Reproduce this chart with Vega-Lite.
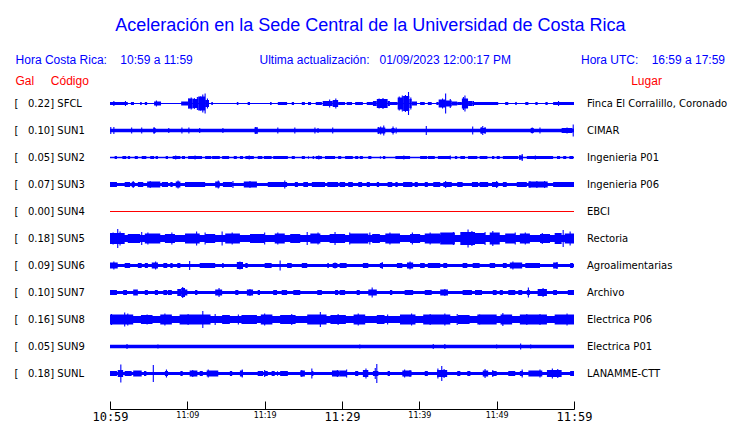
{
"$schema":"https://vega.github.io/schema/vega-lite/v6.json",
"width":464,"height":297,
"autosize":"none",
"padding":{"left":110,"top":90,"right":166,"bottom":36},
"background":"white",
"config":{"view":{"stroke":null}},
"title":{"text":"Aceleración en la Sede Central de la Universidad de Costa Rica",
"subtitle":"Hora Costa Rica:\u00a0\u00a0\u00a0\u00a010:59 a 11:59\u00a0\u00a0\u00a0\u00a0\u00a0\u00a0\u00a0\u00a0\u00a0\u00a0\u00a0\u00a0\u00a0\u00a0\u00a0\u00a0\u00a0\u00a0\u00a0\u00a0Ultima actualización:\u00a0\u00a0\u00a001/09/2023 12:00:17 PM\u00a0\u00a0\u00a0\u00a0\u00a0\u00a0\u00a0\u00a0\u00a0\u00a0\u00a0\u00a0\u00a0\u00a0\u00a0\u00a0\u00a0\u00a0\u00a0\u00a0\u00a0Hora UTC:\u00a0\u00a0\u00a0\u00a016:59 a 17:59\u00a0\u00a0",
"anchor":"middle","frame":"bounds","font":"Liberation Sans","fontSize":18,"fontWeight":"normal","color":"#0000ff",
"subtitleFont":"Liberation Sans","subtitleFontSize":12,"subtitleColor":"#0000ff","subtitlePadding":20,"offset":8.5},
"datasets":{
"st":[
{"id":"SFCL","key":"SFCL|0.22|Finca El Corralillo, Coronado","b":1},
{"id":"SUN1","key":"SUN1|0.10|CIMAR","b":3.5},
{"id":"SUN2","key":"SUN2|0.05|Ingenieria P01","b":1.5},
{"id":"SUN3","key":"SUN3|0.07|Ingenieria P06","b":3},
{"id":"SUN4","key":"SUN4|0.00|EBCI","b":1},
{"id":"SUN5","key":"SUN5|0.18|Rectoria","b":7},
{"id":"SUN6","key":"SUN6|0.09|Agroalimentarias","b":3},
{"id":"SUN7","key":"SUN7|0.10|Archivo","b":3},
{"id":"SUN8","key":"SUN8|0.16|Electrica P06","b":7},
{"id":"SUN9","key":"SUN9|0.05|Electrica P01","b":3.5},
{"id":"SUNL","key":"SUNL|0.18|LANAMME-CTT","b":3}
],
"seg":[
{"id":"SFCL","t0":0,"t1":2.3,"w":3},{"id":"SFCL","t0":2.7,"t1":3.1,"w":3},{"id":"SFCL","t0":3.9,"t1":4.1,"w":3},{"id":"SFCL","t0":4.5,"t1":4.8,"w":3},{"id":"SFCL","t0":5.7,"t1":6.6,"w":4},{"id":"SFCL","t0":9.2,"t1":10.1,"w":4},{"id":"SFCL","t0":10.1,"t1":10.7,"w":10},{"id":"SFCL","t0":10.7,"t1":11.4,"w":9},{"id":"SFCL","t0":11.4,"t1":12.3,"w":14},{"id":"SFCL","t0":12.3,"t1":12.8,"w":7},{"id":"SFCL","t0":13.1,"t1":13.3,"w":3},{"id":"SFCL","t0":16.4,"t1":16.6,"w":3},{"id":"SFCL","t0":17.8,"t1":18.1,"w":3},{"id":"SFCL","t0":20.7,"t1":20.9,"w":3},{"id":"SFCL","t0":21.7,"t1":22.9,"w":3},{"id":"SFCL","t0":23.5,"t1":23.8,"w":3},{"id":"SFCL","t0":24.8,"t1":25.2,"w":3},{"id":"SFCL","t0":25.6,"t1":26,"w":3},{"id":"SFCL","t0":26.6,"t1":27.4,"w":3},{"id":"SFCL","t0":27.5,"t1":28.8,"w":5},{"id":"SFCL","t0":28.8,"t1":29.5,"w":7},{"id":"SFCL","t0":29.5,"t1":30.4,"w":3},{"id":"SFCL","t0":30.6,"t1":31.3,"w":3},{"id":"SFCL","t0":31.7,"t1":32.7,"w":3},{"id":"SFCL","t0":33.2,"t1":34,"w":3},{"id":"SFCL","t0":34,"t1":34.5,"w":5},{"id":"SFCL","t0":34.5,"t1":35.9,"w":9},{"id":"SFCL","t0":35.9,"t1":36.2,"w":5},{"id":"SFCL","t0":36.2,"t1":37.2,"w":3},{"id":"SFCL","t0":37.2,"t1":37.9,"w":12},{"id":"SFCL","t0":37.9,"t1":38.7,"w":15},{"id":"SFCL","t0":38.7,"t1":39,"w":9},{"id":"SFCL","t0":39,"t1":39.7,"w":4},{"id":"SFCL","t0":40.1,"t1":40.7,"w":3},{"id":"SFCL","t0":41.1,"t1":41.6,"w":3},{"id":"SFCL","t0":42.2,"t1":42.5,"w":3},{"id":"SFCL","t0":42.5,"t1":43.4,"w":8},{"id":"SFCL","t0":43.4,"t1":44.2,"w":6},{"id":"SFCL","t0":44.2,"t1":44.9,"w":4},{"id":"SFCL","t0":44.9,"t1":45.5,"w":3},{"id":"SFCL","t0":45.5,"t1":46.3,"w":10},{"id":"SFCL","t0":46.3,"t1":46.9,"w":5},{"id":"SFCL","t0":46.9,"t1":50.2,"w":3},{"id":"SFCL","t0":51.1,"t1":51.5,"w":3},{"id":"SFCL","t0":52.4,"t1":52.6,"w":3},{"id":"SFCL","t0":53.7,"t1":54.1,"w":3},{"id":"SFCL","t0":55,"t1":55.3,"w":3},{"id":"SFCL","t0":56.3,"t1":56.6,"w":3},{"id":"SFCL","t0":57.3,"t1":60,"w":3},
{"id":"SUN1","t0":5.6,"t1":5.9,"w":5},{"id":"SUN1","t0":18.7,"t1":19.1,"w":6},{"id":"SUN1","t0":34.6,"t1":35.6,"w":6},{"id":"SUN1","t0":36.4,"t1":36.8,"w":5},{"id":"SUN1","t0":47.9,"t1":48.6,"w":5},{"id":"SUN1","t0":54.4,"t1":54.8,"w":5},{"id":"SUN1","t0":58.4,"t1":59.8,"w":5},
{"id":"SUN2","t0":0.6,"t1":0.9,"w":3},{"id":"SUN2","t0":1.6,"t1":2.1,"w":3},{"id":"SUN2","t0":2.3,"t1":2.6,"w":3},{"id":"SUN2","t0":3.2,"t1":3.6,"w":3},{"id":"SUN2","t0":4.1,"t1":4.7,"w":3},{"id":"SUN2","t0":5.2,"t1":5.7,"w":3},{"id":"SUN2","t0":5.9,"t1":6.2,"w":3},{"id":"SUN2","t0":7.2,"t1":7.5,"w":3},{"id":"SUN2","t0":8.1,"t1":9.1,"w":3},{"id":"SUN2","t0":9.3,"t1":9.7,"w":3},{"id":"SUN2","t0":10.1,"t1":11.9,"w":3},{"id":"SUN2","t0":12.3,"t1":13.1,"w":3},{"id":"SUN2","t0":13.2,"t1":14.2,"w":3},{"id":"SUN2","t0":14.5,"t1":15.4,"w":3},{"id":"SUN2","t0":16,"t1":16.4,"w":3},{"id":"SUN2","t0":16.8,"t1":17.2,"w":3},{"id":"SUN2","t0":17.5,"t1":18.6,"w":3},{"id":"SUN2","t0":19.1,"t1":19.7,"w":3},{"id":"SUN2","t0":19.9,"t1":20.9,"w":3},{"id":"SUN2","t0":21.1,"t1":23,"w":3},{"id":"SUN2","t0":23.5,"t1":23.9,"w":3},{"id":"SUN2","t0":24.8,"t1":25.2,"w":3},{"id":"SUN2","t0":25.6,"t1":25.7,"w":3},{"id":"SUN2","t0":26.2,"t1":26.4,"w":3},{"id":"SUN2","t0":26.6,"t1":27.4,"w":3},{"id":"SUN2","t0":27.8,"t1":29.1,"w":3},{"id":"SUN2","t0":29.5,"t1":29.9,"w":3},{"id":"SUN2","t0":30.4,"t1":31.4,"w":3},{"id":"SUN2","t0":31.7,"t1":32.1,"w":3},{"id":"SUN2","t0":32.3,"t1":32.7,"w":3},{"id":"SUN2","t0":33.4,"t1":33.8,"w":3},{"id":"SUN2","t0":34.9,"t1":35,"w":3},{"id":"SUN2","t0":35.3,"t1":35.6,"w":3},{"id":"SUN2","t0":36.9,"t1":38.8,"w":3},{"id":"SUN2","t0":40.1,"t1":41,"w":3},{"id":"SUN2","t0":41.1,"t1":42,"w":3},{"id":"SUN2","t0":42.4,"t1":44,"w":3},{"id":"SUN2","t0":44.6,"t1":44.9,"w":3},{"id":"SUN2","t0":45.3,"t1":45.9,"w":3},{"id":"SUN2","t0":46.3,"t1":47.5,"w":3},{"id":"SUN2","t0":47.8,"t1":48.8,"w":3},{"id":"SUN2","t0":49.4,"t1":49.7,"w":3},{"id":"SUN2","t0":50,"t1":50.4,"w":3},{"id":"SUN2","t0":50.8,"t1":52.8,"w":3},{"id":"SUN2","t0":52.9,"t1":53.4,"w":4},{"id":"SUN2","t0":53.9,"t1":57.3,"w":3},{"id":"SUN2","t0":57.8,"t1":58.2,"w":3},{"id":"SUN2","t0":58.6,"t1":59,"w":3},{"id":"SUN2","t0":59.4,"t1":59.9,"w":3},
{"id":"SUN3","t0":0,"t1":0.9,"w":5},{"id":"SUN3","t0":1.9,"t1":2.6,"w":5},{"id":"SUN3","t0":2.8,"t1":3.2,"w":5},{"id":"SUN3","t0":3.6,"t1":4.3,"w":5},{"id":"SUN3","t0":4.8,"t1":6.5,"w":6},{"id":"SUN3","t0":6.7,"t1":7.5,"w":5},{"id":"SUN3","t0":7.8,"t1":8.1,"w":5},{"id":"SUN3","t0":8.5,"t1":9.1,"w":6},{"id":"SUN3","t0":9.7,"t1":12.3,"w":5},{"id":"SUN3","t0":13.6,"t1":14.2,"w":6},{"id":"SUN3","t0":14.6,"t1":15.8,"w":5},{"id":"SUN3","t0":17.3,"t1":19,"w":6},{"id":"SUN3","t0":20.4,"t1":22.9,"w":5},{"id":"SUN3","t0":23.9,"t1":24.3,"w":5},{"id":"SUN3","t0":25,"t1":25.6,"w":5},{"id":"SUN3","t0":26.1,"t1":27.8,"w":5},{"id":"SUN3","t0":28.1,"t1":29.5,"w":5},{"id":"SUN3","t0":29.7,"t1":30.4,"w":5},{"id":"SUN3","t0":30.8,"t1":31.4,"w":5},{"id":"SUN3","t0":32.1,"t1":32.6,"w":5},{"id":"SUN3","t0":33.2,"t1":33.6,"w":5},{"id":"SUN3","t0":34.5,"t1":34.8,"w":5},{"id":"SUN3","t0":35.9,"t1":36.5,"w":5},{"id":"SUN3","t0":36.9,"t1":37.2,"w":5},{"id":"SUN3","t0":37.9,"t1":39.1,"w":5},{"id":"SUN3","t0":39.4,"t1":39.8,"w":5},{"id":"SUN3","t0":40.7,"t1":41.1,"w":5},{"id":"SUN3","t0":41.8,"t1":42.7,"w":5},{"id":"SUN3","t0":43.1,"t1":44.2,"w":5},{"id":"SUN3","t0":44.9,"t1":45.6,"w":5},{"id":"SUN3","t0":46.8,"t1":47.6,"w":5},{"id":"SUN3","t0":47.8,"t1":48.9,"w":5},{"id":"SUN3","t0":49.4,"t1":50.2,"w":5},{"id":"SUN3","t0":50.8,"t1":51.3,"w":5},{"id":"SUN3","t0":52.6,"t1":53.9,"w":5},{"id":"SUN3","t0":54.1,"t1":56.6,"w":6},{"id":"SUN3","t0":57.3,"t1":60,"w":5},
{"id":"SUN5","t0":0,"t1":1.9,"w":11},{"id":"SUN5","t0":2.3,"t1":3.9,"w":9},{"id":"SUN5","t0":4.5,"t1":6.5,"w":10},{"id":"SUN5","t0":7.1,"t1":8.4,"w":9},{"id":"SUN5","t0":9.7,"t1":11.6,"w":10},{"id":"SUN5","t0":12.3,"t1":13.6,"w":9},{"id":"SUN5","t0":14.9,"t1":16.8,"w":10},{"id":"SUN5","t0":18.1,"t1":20,"w":9},{"id":"SUN5","t0":21.3,"t1":22.6,"w":10},{"id":"SUN5","t0":23.3,"t1":24.6,"w":9},{"id":"SUN5","t0":25.9,"t1":27.2,"w":10},{"id":"SUN5","t0":28.4,"t1":30.4,"w":9},{"id":"SUN5","t0":31,"t1":33.4,"w":10},{"id":"SUN5","t0":33.9,"t1":34.9,"w":9},{"id":"SUN5","t0":35.6,"t1":37.5,"w":10},{"id":"SUN5","t0":38.8,"t1":40.1,"w":9},{"id":"SUN5","t0":40.7,"t1":42.7,"w":10},{"id":"SUN5","t0":42.7,"t1":44.6,"w":12},{"id":"SUN5","t0":45.3,"t1":47.2,"w":13},{"id":"SUN5","t0":47.2,"t1":48.5,"w":11},{"id":"SUN5","t0":49.1,"t1":50.4,"w":12},{"id":"SUN5","t0":51.1,"t1":52.4,"w":10},{"id":"SUN5","t0":53,"t1":54.3,"w":10},{"id":"SUN5","t0":55.6,"t1":56.9,"w":9},{"id":"SUN5","t0":57.5,"t1":58.4,"w":11},{"id":"SUN5","t0":58.8,"t1":60,"w":10},
{"id":"SUN6","t0":0,"t1":1,"w":6},{"id":"SUN6","t0":1.9,"t1":2.6,"w":5},{"id":"SUN6","t0":3.6,"t1":4.1,"w":5},{"id":"SUN6","t0":4.5,"t1":4.9,"w":5},{"id":"SUN6","t0":5.4,"t1":6.2,"w":6},{"id":"SUN6","t0":6.9,"t1":7.4,"w":5},{"id":"SUN6","t0":7.8,"t1":8.1,"w":5},{"id":"SUN6","t0":8.7,"t1":9.1,"w":5},{"id":"SUN6","t0":11.6,"t1":13.6,"w":5},{"id":"SUN6","t0":14.5,"t1":14.7,"w":5},{"id":"SUN6","t0":16.4,"t1":17.2,"w":7},{"id":"SUN6","t0":17.5,"t1":17.8,"w":5},{"id":"SUN6","t0":20,"t1":20.9,"w":5},{"id":"SUN6","t0":22.9,"t1":23.5,"w":5},{"id":"SUN6","t0":24.8,"t1":25.5,"w":5},{"id":"SUN6","t0":28.1,"t1":28.3,"w":5},{"id":"SUN6","t0":28.8,"t1":29.4,"w":5},{"id":"SUN6","t0":29.7,"t1":30.6,"w":5},{"id":"SUN6","t0":32.7,"t1":33.4,"w":5},{"id":"SUN6","t0":34.9,"t1":35.3,"w":5},{"id":"SUN6","t0":37.1,"t1":37.8,"w":5},{"id":"SUN6","t0":38.4,"t1":39.2,"w":6},{"id":"SUN6","t0":40.1,"t1":40.7,"w":5},{"id":"SUN6","t0":41.1,"t1":42.7,"w":5},{"id":"SUN6","t0":43.1,"t1":43.6,"w":5},{"id":"SUN6","t0":45.6,"t1":46.2,"w":5},{"id":"SUN6","t0":46.9,"t1":47.8,"w":5},{"id":"SUN6","t0":49.1,"t1":49.8,"w":5},{"id":"SUN6","t0":50.8,"t1":51.3,"w":5},{"id":"SUN6","t0":51.7,"t1":53.3,"w":6},{"id":"SUN6","t0":53.7,"t1":55.6,"w":5},{"id":"SUN6","t0":57.3,"t1":57.9,"w":6},{"id":"SUN6","t0":59.5,"t1":59.9,"w":5},
{"id":"SUN7","t0":0,"t1":0.9,"w":5},{"id":"SUN7","t0":1.7,"t1":2.2,"w":5},{"id":"SUN7","t0":3,"t1":3.6,"w":6},{"id":"SUN7","t0":4.5,"t1":4.9,"w":5},{"id":"SUN7","t0":5.8,"t1":6.2,"w":5},{"id":"SUN7","t0":6.9,"t1":7.4,"w":5},{"id":"SUN7","t0":7.5,"t1":8,"w":5},{"id":"SUN7","t0":8.7,"t1":9.2,"w":7},{"id":"SUN7","t0":9.2,"t1":9.7,"w":9},{"id":"SUN7","t0":9.7,"t1":10,"w":6},{"id":"SUN7","t0":11,"t1":11.3,"w":5},{"id":"SUN7","t0":13.6,"t1":14.5,"w":6},{"id":"SUN7","t0":16.2,"t1":16.6,"w":5},{"id":"SUN7","t0":17.7,"t1":18.5,"w":6},{"id":"SUN7","t0":19.1,"t1":19.4,"w":5},{"id":"SUN7","t0":21.1,"t1":21.6,"w":5},{"id":"SUN7","t0":22.2,"t1":22.9,"w":5},{"id":"SUN7","t0":23.7,"t1":24.6,"w":5},{"id":"SUN7","t0":26.8,"t1":27.4,"w":5},{"id":"SUN7","t0":29.1,"t1":29.5,"w":5},{"id":"SUN7","t0":29.7,"t1":30.4,"w":5},{"id":"SUN7","t0":31.9,"t1":32.3,"w":5},{"id":"SUN7","t0":33.4,"t1":34.5,"w":6},{"id":"SUN7","t0":36.2,"t1":36.5,"w":5},{"id":"SUN7","t0":38.1,"t1":39.2,"w":5},{"id":"SUN7","t0":40.7,"t1":41.6,"w":5},{"id":"SUN7","t0":42.7,"t1":43.7,"w":6},{"id":"SUN7","t0":45.6,"t1":46.8,"w":5},{"id":"SUN7","t0":47.2,"t1":48.1,"w":5},{"id":"SUN7","t0":49.5,"t1":50,"w":5},{"id":"SUN7","t0":50.4,"t1":50.8,"w":5},{"id":"SUN7","t0":51.5,"t1":52.4,"w":5},{"id":"SUN7","t0":52.8,"t1":53.3,"w":5},{"id":"SUN7","t0":53.9,"t1":54.3,"w":5},{"id":"SUN7","t0":55.3,"t1":56.5,"w":7},{"id":"SUN7","t0":57.3,"t1":57.8,"w":5},{"id":"SUN7","t0":59.2,"t1":60,"w":5},
{"id":"SUN8","t0":0,"t1":3,"w":10},{"id":"SUN8","t0":4,"t1":5.5,"w":9},{"id":"SUN8","t0":6.5,"t1":8,"w":10},{"id":"SUN8","t0":9,"t1":13,"w":10},{"id":"SUN8","t0":14.5,"t1":15.5,"w":9},{"id":"SUN8","t0":17,"t1":19,"w":9},{"id":"SUN8","t0":19.5,"t1":21,"w":10},{"id":"SUN8","t0":22,"t1":24,"w":9},{"id":"SUN8","t0":25.5,"t1":28,"w":10},{"id":"SUN8","t0":28.5,"t1":30.5,"w":9},{"id":"SUN8","t0":31.5,"t1":33,"w":10},{"id":"SUN8","t0":34.5,"t1":35.5,"w":9},{"id":"SUN8","t0":37.5,"t1":39.5,"w":10},{"id":"SUN8","t0":40.5,"t1":44,"w":10},{"id":"SUN8","t0":45,"t1":46.5,"w":9},{"id":"SUN8","t0":47.5,"t1":50,"w":10},{"id":"SUN8","t0":50.5,"t1":52,"w":10},{"id":"SUN8","t0":53,"t1":56.5,"w":10},{"id":"SUN8","t0":57.5,"t1":60,"w":10},
{"id":"SUNL","t0":0,"t1":0.9,"w":5},{"id":"SUNL","t0":1,"t1":1.7,"w":7},{"id":"SUNL","t0":1.9,"t1":2.8,"w":5},{"id":"SUNL","t0":3,"t1":4.1,"w":6},{"id":"SUNL","t0":4.4,"t1":4.7,"w":5},{"id":"SUNL","t0":7.1,"t1":7.5,"w":5},{"id":"SUNL","t0":9.1,"t1":9.4,"w":5},{"id":"SUNL","t0":10.3,"t1":11.3,"w":6},{"id":"SUNL","t0":11.6,"t1":12,"w":5},{"id":"SUNL","t0":12.5,"t1":14,"w":6},{"id":"SUNL","t0":15.5,"t1":15.8,"w":5},{"id":"SUNL","t0":16.8,"t1":17.2,"w":6},{"id":"SUNL","t0":19.1,"t1":19.8,"w":5},{"id":"SUNL","t0":20,"t1":20.4,"w":5},{"id":"SUNL","t0":20.9,"t1":21.3,"w":5},{"id":"SUNL","t0":21.6,"t1":21.7,"w":5},{"id":"SUNL","t0":22,"t1":23,"w":5},{"id":"SUNL","t0":24.6,"t1":25.2,"w":6},{"id":"SUNL","t0":26.1,"t1":26.3,"w":5},{"id":"SUNL","t0":28.7,"t1":29.7,"w":6},{"id":"SUNL","t0":29.7,"t1":30.6,"w":6},{"id":"SUNL","t0":31.7,"t1":32.1,"w":5},{"id":"SUNL","t0":32.7,"t1":33.4,"w":7},{"id":"SUNL","t0":34,"t1":34.7,"w":5},{"id":"SUNL","t0":35.9,"t1":36.2,"w":5},{"id":"SUNL","t0":37.8,"t1":39,"w":6},{"id":"SUNL","t0":40.7,"t1":41.1,"w":5},{"id":"SUNL","t0":42.3,"t1":43.6,"w":7},{"id":"SUNL","t0":44.9,"t1":45.3,"w":5},{"id":"SUNL","t0":46.2,"t1":46.6,"w":5},{"id":"SUNL","t0":48.2,"t1":48.9,"w":6},{"id":"SUNL","t0":49.4,"t1":50,"w":5},{"id":"SUNL","t0":51.5,"t1":52.4,"w":5},{"id":"SUNL","t0":53,"t1":53.4,"w":5},{"id":"SUNL","t0":54.1,"t1":55.9,"w":6},{"id":"SUNL","t0":56.5,"t1":58.4,"w":7},{"id":"SUNL","t0":59.5,"t1":60,"w":5}
],
"spk":[
{"id":"SFCL","t":0.5,"a":5},{"id":"SFCL","t":2,"a":5},{"id":"SFCL","t":6,"a":6},{"id":"SFCL","t":10.2,"a":10},{"id":"SFCL","t":10.5,"a":12},{"id":"SFCL","t":10.9,"a":11},{"id":"SFCL","t":11.3,"a":13},{"id":"SFCL","t":11.7,"a":14},{"id":"SFCL","t":12,"a":18},{"id":"SFCL","t":12.3,"a":20},{"id":"SFCL","t":12.6,"a":10},{"id":"SFCL","t":28.4,"a":8},{"id":"SFCL","t":29.2,"a":10},{"id":"SFCL","t":34.8,"a":10},{"id":"SFCL","t":35.3,"a":11},{"id":"SFCL","t":35.7,"a":8},{"id":"SFCL","t":37.4,"a":14},{"id":"SFCL","t":37.8,"a":16},{"id":"SFCL","t":38.2,"a":17},{"id":"SFCL","t":38.6,"a":23},{"id":"SFCL","t":38.9,"a":12},{"id":"SFCL","t":43,"a":10},{"id":"SFCL","t":43.4,"a":20},{"id":"SFCL","t":44,"a":9},{"id":"SFCL","t":45.7,"a":13},{"id":"SFCL","t":45.9,"a":16},{"id":"SFCL","t":47,"a":5},{"id":"SFCL","t":58,"a":5},
{"id":"SUN1","t":0.1,"a":7},{"id":"SUN1","t":0.5,"a":7},{"id":"SUN1","t":2.8,"a":6},{"id":"SUN1","t":4.1,"a":6},{"id":"SUN1","t":5.7,"a":7},{"id":"SUN1","t":7.6,"a":5},{"id":"SUN1","t":9.3,"a":6},{"id":"SUN1","t":10.2,"a":6},{"id":"SUN1","t":11.6,"a":5},{"id":"SUN1","t":14.6,"a":5},{"id":"SUN1","t":18.8,"a":7},{"id":"SUN1","t":19,"a":7},{"id":"SUN1","t":21.7,"a":6},{"id":"SUN1","t":23.9,"a":6},{"id":"SUN1","t":26.5,"a":6},{"id":"SUN1","t":26.9,"a":5},{"id":"SUN1","t":28.8,"a":6},{"id":"SUN1","t":34.7,"a":7},{"id":"SUN1","t":35,"a":8},{"id":"SUN1","t":35.4,"a":10},{"id":"SUN1","t":36.6,"a":8},{"id":"SUN1","t":37,"a":6},{"id":"SUN1","t":40.9,"a":9},{"id":"SUN1","t":46.9,"a":8},{"id":"SUN1","t":48,"a":7},{"id":"SUN1","t":48.2,"a":9},{"id":"SUN1","t":48.5,"a":7},{"id":"SUN1","t":54.6,"a":6},{"id":"SUN1","t":55.6,"a":6},{"id":"SUN1","t":59.1,"a":6},{"id":"SUN1","t":59.9,"a":12},
{"id":"SUN2","t":8.5,"a":4},{"id":"SUN2","t":11,"a":4},{"id":"SUN2","t":18,"a":4},{"id":"SUN2","t":27,"a":4},{"id":"SUN2","t":38,"a":4},{"id":"SUN2","t":44,"a":4},{"id":"SUN2","t":53,"a":5},{"id":"SUN2","t":53.3,"a":7},{"id":"SUN2","t":55,"a":4},
{"id":"SUN3","t":3,"a":7},{"id":"SUN3","t":5.2,"a":7},{"id":"SUN3","t":8.8,"a":8},{"id":"SUN3","t":14,"a":8},{"id":"SUN3","t":15.9,"a":7},{"id":"SUN3","t":18.1,"a":7},{"id":"SUN3","t":22.6,"a":8},{"id":"SUN3","t":43.4,"a":7},{"id":"SUN3","t":50,"a":7},{"id":"SUN3","t":54.3,"a":7},{"id":"SUN3","t":55.2,"a":7},{"id":"SUN3","t":56.2,"a":7},
{"id":"SUN5","t":0.4,"a":12},{"id":"SUN5","t":1,"a":19},{"id":"SUN5","t":1.3,"a":14},{"id":"SUN5","t":4.1,"a":13},{"id":"SUN5","t":4.9,"a":12},{"id":"SUN5","t":8,"a":12},{"id":"SUN5","t":11.2,"a":14},{"id":"SUN5","t":12.3,"a":12},{"id":"SUN5","t":14.5,"a":14},{"id":"SUN5","t":15.8,"a":12},{"id":"SUN5","t":20,"a":12},{"id":"SUN5","t":21.7,"a":12},{"id":"SUN5","t":25.5,"a":13},{"id":"SUN5","t":26.9,"a":12},{"id":"SUN5","t":29.1,"a":13},{"id":"SUN5","t":31,"a":12},{"id":"SUN5","t":33.6,"a":12},{"id":"SUN5","t":36.2,"a":12},{"id":"SUN5","t":39.1,"a":12},{"id":"SUN5","t":41.4,"a":12},{"id":"SUN5","t":44.4,"a":13},{"id":"SUN5","t":46.3,"a":18},{"id":"SUN5","t":46.8,"a":15},{"id":"SUN5","t":48.5,"a":13},{"id":"SUN5","t":49.5,"a":15},{"id":"SUN5","t":52.4,"a":12},{"id":"SUN5","t":53.7,"a":12},{"id":"SUN5","t":55.9,"a":11},{"id":"SUN5","t":58.6,"a":17},{"id":"SUN5","t":59.5,"a":14},
{"id":"SUN6","t":0.5,"a":8},{"id":"SUN6","t":5.9,"a":8},{"id":"SUN6","t":10.3,"a":9},{"id":"SUN6","t":16.8,"a":8},{"id":"SUN6","t":22,"a":10},{"id":"SUN6","t":29.1,"a":6},{"id":"SUN6","t":35.2,"a":7},{"id":"SUN6","t":38.8,"a":8},{"id":"SUN6","t":52.1,"a":8},{"id":"SUN6","t":57.8,"a":7},
{"id":"SUN7","t":9.4,"a":11},{"id":"SUN7","t":14.1,"a":9},{"id":"SUN7","t":18.1,"a":7},{"id":"SUN7","t":33.9,"a":10},{"id":"SUN7","t":43.3,"a":7},{"id":"SUN7","t":54.1,"a":10},{"id":"SUN7","t":56,"a":9},
{"id":"SUN8","t":0.2,"a":11},{"id":"SUN8","t":1.9,"a":14},{"id":"SUN8","t":2.3,"a":12},{"id":"SUN8","t":4.8,"a":10},{"id":"SUN8","t":7.1,"a":12},{"id":"SUN8","t":10.1,"a":11},{"id":"SUN8","t":12,"a":17},{"id":"SUN8","t":13.6,"a":11},{"id":"SUN8","t":16.6,"a":10},{"id":"SUN8","t":20,"a":12},{"id":"SUN8","t":23.5,"a":11},{"id":"SUN8","t":27.2,"a":15},{"id":"SUN8","t":29.5,"a":11},{"id":"SUN8","t":32.1,"a":12},{"id":"SUN8","t":35.9,"a":10},{"id":"SUN8","t":39,"a":12},{"id":"SUN8","t":41.4,"a":11},{"id":"SUN8","t":43.3,"a":12},{"id":"SUN8","t":44.9,"a":11},{"id":"SUN8","t":47.8,"a":10},{"id":"SUN8","t":50.8,"a":13},{"id":"SUN8","t":53.9,"a":11},{"id":"SUN8","t":55.6,"a":11},{"id":"SUN8","t":59.1,"a":12},
{"id":"SUN9","t":2.2,"a":5},{"id":"SUN9","t":6.2,"a":4},{"id":"SUN9","t":32.3,"a":4},{"id":"SUN9","t":41.8,"a":5},{"id":"SUN9","t":43.3,"a":5},{"id":"SUN9","t":50,"a":4},{"id":"SUN9","t":53.1,"a":6},{"id":"SUN9","t":54.4,"a":4},
{"id":"SUNL","t":1.4,"a":18},{"id":"SUNL","t":5.6,"a":17},{"id":"SUNL","t":7.3,"a":8},{"id":"SUNL","t":10.7,"a":7},{"id":"SUNL","t":12.7,"a":8},{"id":"SUNL","t":17.1,"a":8},{"id":"SUNL","t":20,"a":7},{"id":"SUNL","t":24.8,"a":7},{"id":"SUNL","t":26.1,"a":10},{"id":"SUNL","t":29.4,"a":7},{"id":"SUNL","t":30.6,"a":8},{"id":"SUNL","t":33.1,"a":10},{"id":"SUNL","t":34.3,"a":11},{"id":"SUNL","t":34.5,"a":19},{"id":"SUNL","t":38.1,"a":8},{"id":"SUNL","t":38.8,"a":7},{"id":"SUNL","t":42.4,"a":10},{"id":"SUNL","t":42.9,"a":15},{"id":"SUNL","t":43.2,"a":9},{"id":"SUNL","t":48.5,"a":9},{"id":"SUNL","t":49.5,"a":7},{"id":"SUNL","t":53.3,"a":8},{"id":"SUNL","t":55.6,"a":8},{"id":"SUNL","t":57.2,"a":10},{"id":"SUNL","t":57.9,"a":9}
]
},
"resolve":{"axis":{"y":"independent"}},
"layer":[
{"data":{"name":"st"},
"mark":{"type":"rule"},
"encoding":{
"y":{"field":"key","type":"nominal","title":null,"scale":{"paddingInner":0,"paddingOuter":0},
"axis":{"orient":"right","domain":false,"ticks":false,"tickSize":0,"grid":false,"labelPadding":12.5,"labelAlign":"left","labelBaseline":"middle","labelFont":"DejaVu Sans","labelFontSize":10,"labelColor":"#000000","labelOverlap":false,
"labelExpr":"slice(datum.label, lastindexof(datum.label, '|') + 1)",
"title":"Lugar","titleAngle":0,"titleAlign":"left","titleBaseline":"alphabetic","titleX":56.7,"titleY":-5.5,"titleFont":"Liberation Sans","titleFontSize":12,"titleFontWeight":"normal","titleColor":"#ff0000"}},
"x":{"datum":0,"type":"quantitative","title":null,"scale":{"domain":[0,60],"nice":false,"zero":false},
"axis":{"values":[0,5,10,15,20,25,30,35,40,45,50,55,60],"title":null,"grid":false,"offset":22,"tickSize":-8,"labelPadding":10,"domainColor":"#000000","tickColor":"#000000","labelColor":"#000000","labelFlush":false,"labelOverlap":false,
"labelExpr":"datum.value % 10 == 0 ? (10 + floor((59 + datum.value) / 60)) + ':' + pad((59 + datum.value) % 60, 2, '0', 'left') : ''",
"labelFont":{"condition":{"test":"datum.value % 30 == 0","value":"DejaVu Sans Mono"},"value":"DejaVu Sans"},
"labelFontSize":{"condition":{"test":"datum.value % 30 == 0","value":12},"value":8}}},
"x2":{"datum":60},
"strokeWidth":{"field":"b","type":"quantitative","scale":{"type":"linear","domain":[0,30],"range":[0,30]},"legend":null},
"color":{"condition":{"test":"datum.id === 'SUN4'","value":"#ff0000"},"value":"#0000ff"}
}},
{"data":{"name":"seg"},
"transform":[{"lookup":"id","from":{"data":{"name":"st"},"key":"id","fields":["key"]}}],
"mark":{"type":"rule"},
"encoding":{
"y":{"field":"key","type":"nominal","title":null,
"axis":{"orient":"left","domain":false,"ticks":false,"tickSize":0,"grid":false,"labelPadding":96,"labelAlign":"left","labelBaseline":"middle","labelFont":"DejaVu Sans","labelFontSize":10,"labelColor":"#000000","labelOverlap":false,
"labelExpr":"'[\u00a0\u00a0\u00a0' + slice(datum.label, indexof(datum.label, '|') + 1, lastindexof(datum.label, '|')) + '] ' + slice(datum.label, 0, indexof(datum.label, '|'))",
"title":"Gal\u00a0\u00a0\u00a0\u00a0\u00a0Código","titleAngle":0,"titleAlign":"left","titleBaseline":"alphabetic","titleX":-95,"titleY":-5.5,"titleFont":"Liberation Sans","titleFontSize":12,"titleFontWeight":"normal","titleColor":"#ff0000"}},
"x":{"field":"t0","type":"quantitative","title":null},
"x2":{"field":"t1"},
"strokeWidth":{"field":"w","type":"quantitative","legend":null},
"color":{"condition":{"test":"datum.id === 'SUN4'","value":"#ff0000"},"value":"#0000ff"}
}},
{"data":{"name":"spk"},
"transform":[{"lookup":"id","from":{"data":{"name":"st"},"key":"id","fields":["key"]}}],
"mark":{"type":"tick","orient":"vertical","thickness":1.1,"opacity":1},
"encoding":{
"y":{"field":"key","type":"nominal","title":null,"axis":null},
"x":{"field":"t","type":"quantitative","title":null},
"size":{"field":"a","type":"quantitative","scale":{"type":"linear","domain":[0,30],"range":[0,30]},"legend":null},
"color":{"condition":{"test":"datum.id === 'SUN4'","value":"#ff0000"},"value":"#0000ff"}
}}
]
}
